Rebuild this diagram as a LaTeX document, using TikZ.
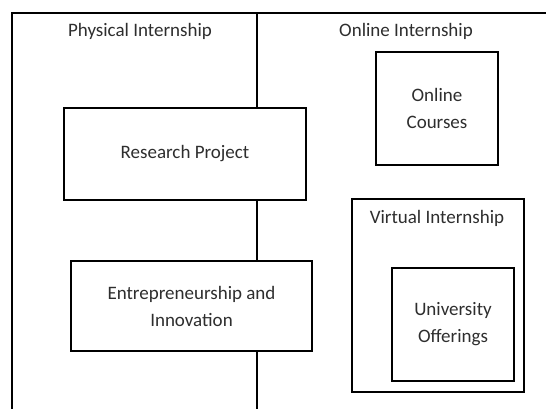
\documentclass[tikz,border=0pt]{standalone}
\usepackage{fontspec}
\setmainfont{Carlito}
\begin{document}
\begin{tikzpicture}[x=1pt,y=-1pt,
  rule/.style={line width=1.7pt,black},
  box/.style={draw,line width=1.7pt,fill=white,inner sep=0pt,align=center,
    text=black!82,font=\fontsize{19}{27}\selectfont},
  label/.style={inner sep=0pt,text=black!82,font=\fontsize{19}{27}\selectfont}]
\useasboundingbox (0,0) rectangle (546,409);
\fill[white] (0,0) rectangle (546,409);
% frame and divider
\coordinate (corner) at (12,13);
\coordinate (topright) at (546,13);
\coordinate (bottomleft) at (12,409);
\coordinate (divtop) at (257,13);
\coordinate (divbot) at (257,409);
\draw[rule] (bottomleft) -- (corner) -- (topright);
% column headings
\node[label] (phys) at (140,31) {Physical Internship};
\node[label] (onl) at (406,31) {Online Internship};
% physical column
\node[box,minimum width=242pt,minimum height=92pt] (rp) at (185,154) {Research Project};
\node[box,minimum width=241pt,minimum height=90pt] (ei) at (191.5,306) {Entrepreneurship and\\Innovation};
\draw[rule] (divtop) -- (rp.north -| divtop);
\draw[rule] (rp.south -| divtop) -- (ei.north -| divtop);
\draw[rule] (ei.south -| divtop) -- (divbot);
% online column
\node[box,minimum width=122pt,minimum height=113pt] (oc) at (437,108.5) {Online\\Courses};
\node[draw,line width=1.7pt,inner sep=0pt,minimum width=172pt,minimum height=193pt] (vi) at (438,295.5) {};
\node[label] (vilab) at (437,218) {Virtual Internship};
\node[box,minimum width=122pt,minimum height=113pt] (uo) at (453,324.5) {University\\Offerings};
\end{tikzpicture}
\end{document}
